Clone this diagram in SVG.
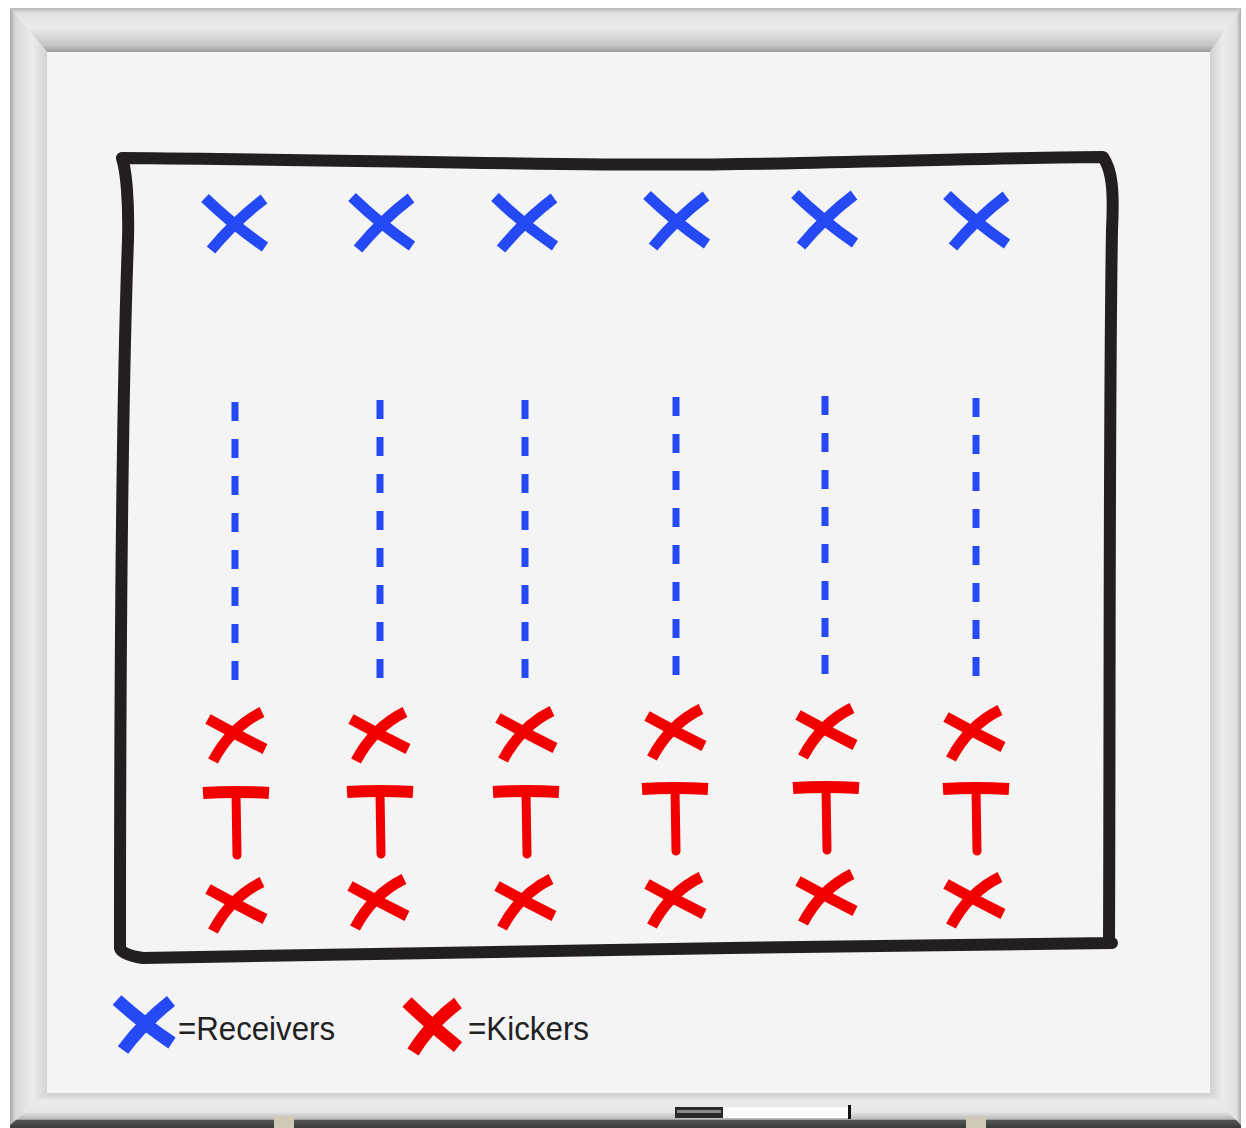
<svg xmlns="http://www.w3.org/2000/svg" width="1246" height="1128" viewBox="0 0 1246 1128">
<defs>
<style>
.blue{fill:none;stroke:#2449f5;stroke-width:11;stroke-linecap:butt}
.red{fill:none;stroke:#f20000;stroke-width:11;stroke-linecap:butt}
.dash{fill:none;stroke:#2449f5;stroke-width:7;stroke-dasharray:19 18}
.lbl{font-family:"Liberation Sans","DejaVu Sans",sans-serif;font-size:34px;fill:#222}
</style>
<linearGradient id="gTop" x1="0" y1="0" x2="0" y2="1">
<stop offset="0" stop-color="#b8b8b8"/><stop offset="0.12" stop-color="#e2e2e2"/><stop offset="0.45" stop-color="#ececec"/><stop offset="0.85" stop-color="#c4c4c4"/><stop offset="1" stop-color="#9a9a9a"/>
</linearGradient>
<linearGradient id="gLeft" x1="0" y1="0" x2="1" y2="0">
<stop offset="0" stop-color="#a8a8a8"/><stop offset="0.15" stop-color="#d8d8d8"/><stop offset="0.6" stop-color="#ececec"/><stop offset="1" stop-color="#d4d4d4"/>
</linearGradient>
<linearGradient id="gRight" x1="0" y1="0" x2="1" y2="0">
<stop offset="0" stop-color="#d0d0d0"/><stop offset="0.4" stop-color="#ebebeb"/><stop offset="0.85" stop-color="#e0e0e0"/><stop offset="1" stop-color="#aaaaaa"/>
</linearGradient>
<linearGradient id="gBot" x1="0" y1="0" x2="0" y2="1">
<stop offset="0" stop-color="#cfcfcf"/><stop offset="0.25" stop-color="#ececec"/><stop offset="0.55" stop-color="#e4e4e4"/><stop offset="0.75" stop-color="#b8b8b8"/><stop offset="0.78" stop-color="#555"/><stop offset="1" stop-color="#3a3a3a"/>
</linearGradient>
<g id="bx"><path class="blue" d="M-30,-27 Q-2,0 30,22"/><path class="blue" d="M29,-26 Q0,-4 -24,25"/></g>
<g id="rx"><path class="red" d="M-29,-14 Q0,2 28,16"/><path class="red" d="M25,-21 Q-6,-6 -24,28"/></g>
<g id="tt"><path class="red" d="M-33,0 Q0,-2 33,0" style="stroke-width:12"/><path class="red" d="M0,0 L1,62" style="stroke-width:9;stroke-linecap:round"/></g>
</defs>
<rect x="0" y="0" width="1246" height="1128" fill="#ffffff"/>
<g id="frame">
<rect x="47" y="52" width="1163" height="1041" fill="#f4f4f4"/>
<polygon points="10,8 1241,8 1210,52 47,52" fill="url(#gTop)"/>
<polygon points="10,8 47,52 47,1093 10,1125" fill="url(#gLeft)"/>
<polygon points="1241,8 1241,1125 1210,1093 1210,52" fill="url(#gRight)"/>
<polygon points="47,1093 1210,1093 1241,1125 1241,1128 10,1128 10,1125" fill="url(#gBot)"/>
<rect x="274" y="1116" width="20" height="12" fill="#cfcab8"/>
<rect x="966" y="1116" width="20" height="12" fill="#cfcab8"/>
<rect x="675" y="1107" width="48" height="11" fill="#2a2a2a"/>
<rect x="677" y="1110" width="44" height="3" fill="#888"/>
<rect x="723" y="1107" width="126" height="11" fill="#fafafa"/>
<rect x="848" y="1105" width="3" height="14" fill="#111"/>
</g>
<g id="field">
<path d="M122,158 C400,160 600,168 800,163 C950,160 1050,157 1103,157 C1112,170 1114,190 1112,230 C1109,400 1110,700 1109,943 L1112,943 C800,945 400,955 143,958 C130,956 121,953 120,948 C120,700 122,400 128,240 C129,200 126,170 122,158 Z" fill="none" stroke="#231f20" stroke-width="12" stroke-linejoin="round" stroke-linecap="round"/>
</g>
<g id="receivers">
<use href="#bx" x="235" y="225"/>
<use href="#bx" x="382" y="224"/>
<use href="#bx" x="525" y="224"/>
<use href="#bx" x="677" y="222"/>
<use href="#bx" x="825" y="221"/>
<use href="#bx" x="977" y="222"/>
</g>
<g id="connectors">
<line class="dash" x1="235" y1="402" x2="235" y2="681"/>
<line class="dash" x1="380" y1="400" x2="380" y2="679"/>
<line class="dash" x1="525" y1="400" x2="525" y2="679"/>
<line class="dash" x1="676" y1="397" x2="676" y2="676"/>
<line class="dash" x1="825" y1="396" x2="825" y2="675"/>
<line class="dash" x1="976" y1="398" x2="976" y2="677"/>
</g>
<g id="kickers-front">
<use href="#rx" x="237" y="733"/>
<use href="#rx" x="380" y="733"/>
<use href="#rx" x="527" y="732"/>
<use href="#rx" x="676" y="730"/>
<use href="#rx" x="827" y="729"/>
<use href="#rx" x="975" y="731"/>
</g>
<g id="tees">
<use href="#tt" x="236" y="793"/>
<use href="#tt" x="380" y="792"/>
<use href="#tt" x="526" y="792"/>
<use href="#tt" x="675" y="789"/>
<use href="#tt" x="826" y="788"/>
<use href="#tt" x="976" y="789"/>
</g>
<g id="kickers-back">
<use href="#rx" x="237" y="903"/>
<use href="#rx" x="379" y="900"/>
<use href="#rx" x="526" y="900"/>
<use href="#rx" x="676" y="898"/>
<use href="#rx" x="827" y="895"/>
<use href="#rx" x="975" y="898"/>
</g>
<g id="legend-receivers">
<g transform="translate(145,1025)">
<path d="M-28,-25 Q0,0 27,18" fill="none" stroke="#2449f5" stroke-width="13"/>
<path d="M26,-24 Q-2,-2 -22,25" fill="none" stroke="#2449f5" stroke-width="13"/>
</g>
<text class="lbl" x="178" y="1040" textLength="157" lengthAdjust="spacingAndGlyphs">=Receivers</text>
</g>
<g id="legend-kickers">
<g transform="translate(433,1027)">
<path d="M-26,-25 Q0,0 25,20" fill="none" stroke="#f20000" stroke-width="13"/>
<path d="M25,-24 Q-2,-4 -20,25" fill="none" stroke="#f20000" stroke-width="13"/>
</g>
<text class="lbl" x="468" y="1040" textLength="121" lengthAdjust="spacingAndGlyphs">=Kickers</text>
</g>
</svg>
